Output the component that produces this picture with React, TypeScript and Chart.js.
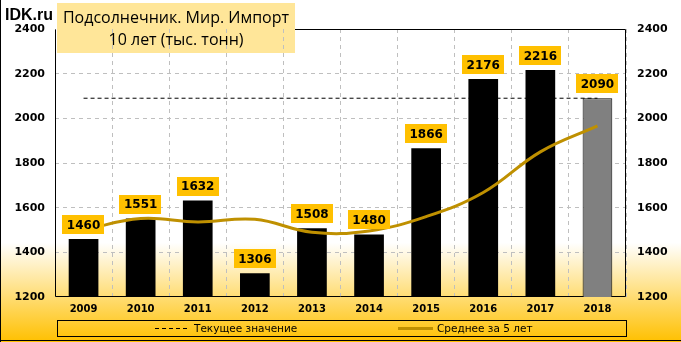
import React, { useEffect, useRef } from "react";
import { Chart, registerables } from "chart.js";

Chart.register(...registerables);

const years = ["2009", "2010", "2011", "2012", "2013", "2014", "2015", "2016", "2017", "2018"];
const importValues = [1460, 1551, 1632, 1306, 1508, 1480, 1866, 2176, 2216, 2090];
const currentValueLine = [2090, 2090, 2090, 2090, 2090, 2090, 2090, 2090, 2090, 2090];
const fiveYearAverage = [1500, 1551, 1536, 1548, 1490, 1496, 1560, 1668, 1850, 1966];
const yTicks = [1200, 1400, 1600, 1800, 2000, 2200, 2400];

const titleLine1 = "Подсолнечник. Мир. Импорт";
const titleLine2 = "10 лет (тыс. тонн)";
const legendCurrent = "Текущее значение";
const legendAverage = "Среднее за 5 лет";

const W = 681;
const H = 342;

export default function App() {
  const canvasRef = useRef<HTMLCanvasElement | null>(null);

  useEffect(() => {
    if (!canvasRef.current) return;

    const frameAndTitle = {
      id: "frameAndTitle",
      beforeDraw(chart: any) {
        const ctx = chart.ctx;
        ctx.save();
        ctx.fillStyle = "#FFE699";
        ctx.fillRect(57, 3, 238, 50);
        ctx.restore();
      },
      beforeDatasetsDraw(chart: any) {
        const { ctx, chartArea } = chart;
        const l = Math.round(chartArea.left) + 0.5;
        const r = Math.round(chartArea.right) - 0.5;
        const t = Math.round(chartArea.top) + 0.5;
        const b = Math.round(chartArea.bottom) - 0.5;
        ctx.save();
        ctx.strokeStyle = "#000";
        ctx.lineWidth = 1;
        ctx.beginPath();
        ctx.moveTo(295, t);
        ctx.lineTo(r, t);
        ctx.lineTo(r, b);
        ctx.lineTo(l, b);
        ctx.lineTo(l, t);
        ctx.stroke();
        ctx.restore();
      },
    };

    const barLabels = {
      id: "barLabels",
      afterDatasetsDraw(chart: any) {
        const ctx = chart.ctx;
        const meta = chart.getDatasetMeta(0);
        ctx.save();
        ctx.font = 'bold 12px "DejaVu Sans"';
        ctx.textAlign = "center";
        ctx.textBaseline = "middle";
        meta.data.forEach((el: any, i: number) => {
          const txt = String(importValues[i]);
          const w = ctx.measureText(txt).width + 9;
          const h = 19;
          const bottom = el.y - 5;
          ctx.fillStyle = "#FFC000";
          ctx.fillRect(Math.round(el.x - w / 2), Math.round(bottom - h), Math.round(w), h);
          ctx.fillStyle = "#000";
          ctx.fillText(txt, el.x, bottom - h / 2 + 1);
        });
        ctx.restore();
      },
    };

    const tickFont = { family: "DejaVu Sans", size: 11, weight: "bold" };

    const chart = new Chart(canvasRef.current, {
      type: "bar",
      data: {
        labels: years,
        datasets: [
          {
            type: "bar",
            label: "Импорт",
            data: importValues,
            backgroundColor: years.map((y, i) => (i === years.length - 1 ? "#808080" : "#000000")),
            borderColor: "#000000",
            borderWidth: years.map((y, i) => (i === years.length - 1 ? 1 : 0)),
            categoryPercentage: 1,
            barPercentage: 0.52,
            order: 2,
            yAxisID: "y",
          },
          {
            type: "line",
            label: legendCurrent,
            data: currentValueLine,
            borderColor: "#000000",
            borderWidth: 1,
            borderDash: [4, 3],
            pointRadius: 0,
            fill: false,
            order: 3,
            yAxisID: "y",
          },
          {
            type: "line",
            label: legendAverage,
            data: fiveYearAverage,
            borderColor: "#BF9000",
            borderWidth: 3,
            tension: 0.4,
            pointRadius: 0,
            fill: false,
            order: 1,
            yAxisID: "y",
          },
        ],
      } as any,
      options: {
        animation: false,
        responsive: false,
        maintainAspectRatio: false,
        layout: { padding: { top: 29, left: 0, right: 0, bottom: 0 } },
        plugins: {
          legend: { display: false },
          tooltip: { enabled: false },
          title: { display: false },
        },
        scales: {
          x: {
            offset: true,
            grid: { offset: true, color: "#BFBFBF", drawTicks: false },
            border: { display: false, dash: [4, 4] },
            ticks: { color: "#000", font: { family: "DejaVu Sans", size: 10, weight: "bold" }, padding: 6 },
            afterFit: (s: any) => {
              s.height = 45;
            },
          },
          y: {
            position: "left",
            min: yTicks[0],
            max: yTicks[yTicks.length - 1],
            afterBuildTicks: (s: any) => {
              s.ticks = yTicks.map((v) => ({ value: v }));
            },
            grid: {
              drawTicks: false,
              color: (c: any) =>
                c.tick && (c.tick.value === yTicks[0] || c.tick.value === yTicks[yTicks.length - 1])
                  ? "rgba(0,0,0,0)"
                  : "#BFBFBF",
            },
            border: { display: false, dash: [4, 4] },
            ticks: {
              color: "#000",
              font: tickFont,
              padding: 10,
              callback: (v: any) => String(v),
            },
            afterFit: (s: any) => {
              s.width = 55;
            },
          },
          y2: {
            position: "right",
            min: yTicks[0],
            max: yTicks[yTicks.length - 1],
            afterBuildTicks: (s: any) => {
              s.ticks = yTicks.map((v) => ({ value: v }));
            },
            grid: { display: false, drawTicks: false },
            border: { display: false },
            ticks: {
              color: "#000",
              font: tickFont,
              padding: 11,
              callback: (v: any) => String(v),
            },
            afterFit: (s: any) => {
              s.width = 55;
            },
          },
        },
      } as any,
      plugins: [frameAndTitle, barLabels],
    });

    return () => chart.destroy();
  }, []);

  return (
    <div
      style={{
        position: "fixed",
        left: 0,
        top: 0,
        width: W,
        height: H,
        overflow: "hidden",
        background: "linear-gradient(to bottom, #FFFFFF 0%, #FFFFFF 71%, #FFC000 100%)",
      }}
    >
      <canvas ref={canvasRef} width={W} height={H} style={{ position: "absolute", left: 0, top: 0, width: W, height: H }} />
      <div
        style={{
          position: "absolute",
          left: 5,
          top: 6,
          font: 'bold 16px "Liberation Sans"',
          lineHeight: "18px",
          color: "#000",
        }}
      >
        IDK.ru
      </div>
      <div
        style={{
          position: "absolute",
          left: 57,
          top: 6,
          width: 238,
          textAlign: "center",
          font: '16px "Open Sans"',
          lineHeight: "22px",
          color: "#000",
          whiteSpace: "nowrap",
        }}
      >
        <div>{titleLine1}</div>
        <div>{titleLine2}</div>
      </div>
      <div
        style={{
          position: "absolute",
          left: 57,
          top: 320,
          width: 570,
          height: 17,
          boxSizing: "border-box",
          border: "1px solid #000",
        }}
      />
      <div
        style={{
          position: "absolute",
          left: 155,
          top: 328,
          width: 33,
          height: 1,
          background: "repeating-linear-gradient(to right, #000 0px, #000 4px, transparent 4px, transparent 7px)",
        }}
      />
      <div
        style={{
          position: "absolute",
          left: 194,
          top: 321,
          font: '10.5px "DejaVu Sans"',
          lineHeight: "15px",
          color: "#000",
          whiteSpace: "nowrap",
        }}
      >
        {legendCurrent}
      </div>
      <div style={{ position: "absolute", left: 398, top: 327, width: 35, height: 3, background: "#BF9000" }} />
      <div
        style={{
          position: "absolute",
          left: 437,
          top: 321,
          font: '10.5px "DejaVu Sans"',
          lineHeight: "15px",
          color: "#000",
          whiteSpace: "nowrap",
        }}
      >
        {legendAverage}
      </div>
      <div style={{ position: "absolute", left: 0, top: 0, width: 1, height: H, background: "#000" }} />
      <div style={{ position: "absolute", left: 0, top: H - 2, width: W, height: 1, background: "#000" }} />
    </div>
  );
}
